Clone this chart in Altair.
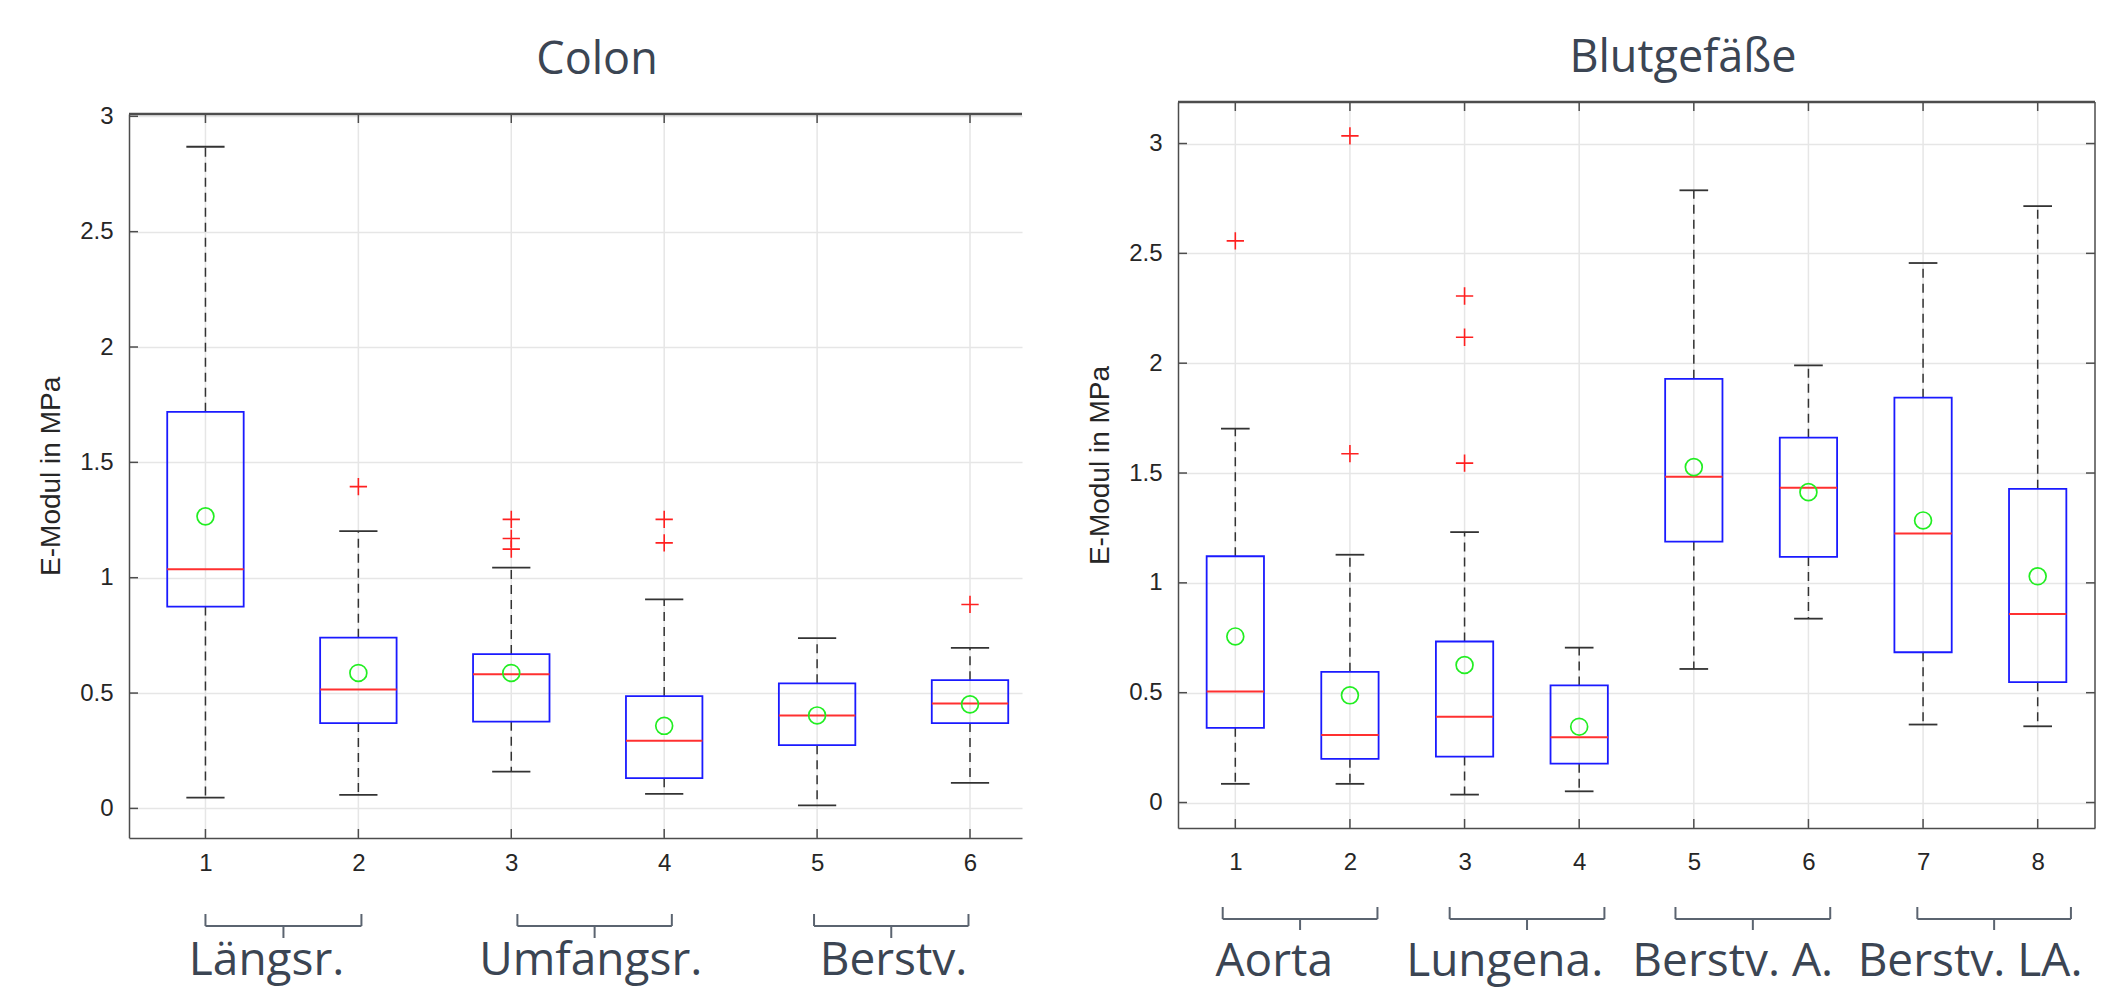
import altair as alt
import pandas as pd

# ---------------- data ----------------
panel_titles = ["Colon", "Blutgefäße"]
y_title = "E-Modul in MPa"
y_ticks = [0, 0.5, 1, 1.5, 2, 2.5, 3]

colon_groups = [1, 2, 3, 4, 5, 6]
colon_q1 = [0.875, 0.370, 0.376, 0.131, 0.274, 0.370]
colon_median = [1.037, 0.515, 0.581, 0.293, 0.403, 0.455]
colon_q3 = [1.719, 0.740, 0.669, 0.487, 0.542, 0.556]
colon_wlo = [0.047, 0.059, 0.159, 0.063, 0.013, 0.111]
colon_whi = [2.868, 1.202, 1.044, 0.906, 0.738, 0.696]
colon_mean = [1.266, 0.587, 0.587, 0.358, 0.403, 0.451]
colon_out_group = [2, 3, 3, 3, 4, 4, 6]
colon_out_value = [1.395, 1.253, 1.170, 1.124, 1.253, 1.151, 0.884]
colon_labels = ["Längsr.", "Umfangsr.", "Berstv."]
colon_label_pos = [1.40, 3.52, 5.50]
colon_bracket_start = [1.00, 3.04, 4.98]
colon_bracket_end = [2.02, 4.05, 5.99]

blut_groups = [1, 2, 3, 4, 5, 6, 7, 8]
blut_q1 = [0.340, 0.199, 0.209, 0.177, 1.188, 1.118, 0.684, 0.548]
blut_median = [0.505, 0.307, 0.391, 0.297, 1.483, 1.433, 1.225, 0.858]
blut_q3 = [1.121, 0.595, 0.733, 0.533, 1.929, 1.661, 1.843, 1.428]
blut_wlo = [0.085, 0.085, 0.036, 0.051, 0.608, 0.837, 0.355, 0.347]
blut_whi = [1.702, 1.128, 1.231, 0.705, 2.787, 1.990, 2.456, 2.715]
blut_mean = [0.756, 0.488, 0.626, 0.345, 1.527, 1.413, 1.284, 1.030]
blut_out_group = [1, 2, 2, 3, 3, 3]
blut_out_value = [2.557, 3.035, 1.588, 2.306, 2.118, 1.545]
blut_labels = ["Aorta", "Lungena.", "Berstv. A.", "Berstv. LA."]
blut_label_pos = [1.34, 3.35, 5.34, 7.41]
blut_bracket_start = [0.89, 2.87, 4.84, 6.95]
blut_bracket_end = [2.24, 4.22, 6.19, 8.29]

# ---------------- styles ----------------
FRAME = "#4d4d4d"
GRID = "#e6e6e6"
TXT = "#262626"
TXT2 = "#3b4553"
BRK = "#5b6470"
TICKFONT = "Liberation Sans"
SLIDEFONT = "Open Sans"


def panel(title, groups, q1, med, q3, wlo, whi, mean, og, ov, labels, lpos, bs, be,
          W, H, xdom, ydom, yrange, ptop, pbot, tx, ty, br, laby, labpad, right_frame):
    xs = alt.Scale(domain=xdom, nice=False, zero=False)
    ys = alt.Scale(domain=ydom, range=yrange, nice=False, zero=False)
    xax = alt.Axis(values=groups, format="d", labelAngle=0, title=None, grid=False,
                   ticks=False, domain=True, domainColor=FRAME, domainWidth=1.5,
                   labelFont=TICKFONT, labelFontSize=24, labelColor=TXT,
                   labelPadding=labpad)
    yax = alt.Axis(values=y_ticks, format="~g", title=y_title, grid=True,
                   gridColor=GRID, gridWidth=1.5, ticks=False, domain=True,
                   domainColor=FRAME, domainWidth=1.5, labelFont=TICKFONT,
                   labelFontSize=24, labelColor=TXT, labelPadding=16,
                   titleFont=TICKFONT, titleFontSize=28, titleFontWeight="normal",
                   titleColor=TXT, titlePadding=14)

    def X(f):
        return alt.X(f, type="quantitative", scale=xs, axis=xax)

    def Y(f):
        return alt.Y(f, type="quantitative", scale=ys, axis=yax)

    box = pd.DataFrame({"g": groups, "q1": q1, "med": med, "q3": q3,
                        "wlo": wlo, "whi": whi, "mean": mean})
    box["xl"] = box["g"] - 0.25
    box["xr"] = box["g"] + 0.25
    box["cl"] = box["g"] - 0.125
    box["cr"] = box["g"] + 0.125
    outl = pd.DataFrame({"g": og, "v": ov})
    yt = pd.DataFrame({"v": y_ticks})
    lab = pd.DataFrame({"lab": labels, "p": lpos})
    brk = pd.DataFrame({"s": bs, "e": be})
    brk["c"] = (brk["s"] + brk["e"]) / 2
    ttl = pd.DataFrame({"t": [title]})

    base = alt.Chart(box)
    layers = [
        # y grid + axes
        alt.Chart(yt).mark_rule(opacity=0).encode(y=Y("v")),
        # x grid
        base.mark_rule(color=GRID, strokeWidth=1.5).encode(
            x=X("g"), y=alt.value(ptop), y2=alt.value(pbot)),
        # whiskers
        base.mark_rule(color="#333333", strokeWidth=1.5, strokeDash=[9, 6]).encode(
            x=X("g"), y=Y("q3"), y2="whi"),
        base.mark_rule(color="#333333", strokeWidth=1.5, strokeDash=[9, 6]).encode(
            x=X("g"), y=Y("q1"), y2="wlo"),
        base.mark_rule(color="#333333", strokeWidth=1.8).encode(
            x=X("cl"), x2="cr", y=Y("whi")),
        base.mark_rule(color="#333333", strokeWidth=1.8).encode(
            x=X("cl"), x2="cr", y=Y("wlo")),
        # boxes
        base.mark_rect(fill="transparent", stroke="#1a1aff", strokeWidth=1.8).encode(
            x=X("xl"), x2="xr", y=Y("q1"), y2="q3"),
        base.mark_rule(color="#ff3030", strokeWidth=2).encode(
            x=X("xl"), x2="xr", y=Y("med")),
        base.mark_point(shape="circle", filled=False, size=285, color="#22ee22",
                        strokeWidth=1.7, opacity=1).encode(x=X("g"), y=Y("mean")),
        alt.Chart(outl).mark_point(shape="M-1,0H1M0,-1V1", filled=False, size=300,
                                   color="#ff2020", strokeWidth=1.6, opacity=1).encode(
            x=X("g"), y=Y("v")),
        # frame: top line and inward ticks
        alt.Chart(ttl).mark_rule(color=FRAME, strokeWidth=2.5).encode(
            x=alt.value(0), x2=alt.value(W), y=alt.value(ptop)),
        alt.Chart(yt).mark_rule(color=FRAME, strokeWidth=1.5).encode(
            y=Y("v"), x=alt.value(0), x2=alt.value(9)),
        base.mark_rule(color=FRAME, strokeWidth=1.5).encode(
            x=X("g"), y=alt.value(pbot), y2=alt.value(pbot - 9)),
        base.mark_rule(color=FRAME, strokeWidth=1.5).encode(
            x=X("g"), y=alt.value(ptop), y2=alt.value(ptop + 9)),
        # brackets
        alt.Chart(brk).mark_rule(color=BRK, strokeWidth=2).encode(
            x=X("s"), x2="e", y=alt.value(br[1])),
        alt.Chart(brk).mark_rule(color=BRK, strokeWidth=2).encode(
            x=X("s"), y=alt.value(br[0]), y2=alt.value(br[1])),
        alt.Chart(brk).mark_rule(color=BRK, strokeWidth=2).encode(
            x=X("e"), y=alt.value(br[0]), y2=alt.value(br[1])),
        alt.Chart(brk).mark_rule(color=BRK, strokeWidth=2).encode(
            x=X("c"), y=alt.value(br[1]), y2=alt.value(br[2])),
        # group labels
        alt.Chart(lab).mark_text(font=SLIDEFONT, fontSize=46, color=TXT2,
                                 baseline="alphabetic", align="center").encode(
            x=X("p"), y=alt.value(laby), text="lab:N"),
        # panel title
        alt.Chart(ttl).mark_text(font=SLIDEFONT, fontSize=45, color=TXT2,
                                 baseline="middle", align="center").encode(
            x=alt.value(tx), y=alt.value(ty), text="t:N"),
    ]
    if right_frame:
        layers.append(alt.Chart(ttl).mark_rule(color=FRAME, strokeWidth=1.5).encode(
            x=alt.value(W), y=alt.value(ptop), y2=alt.value(pbot)))
        layers.append(alt.Chart(yt).mark_rule(color=FRAME, strokeWidth=1.5).encode(
            y=Y("v"), x=alt.value(W - 9), x2=alt.value(W)))
    return alt.layer(*layers).properties(width=W, height=H)


left = panel(panel_titles[0], colon_groups, colon_q1, colon_median, colon_q3,
             colon_wlo, colon_whi, colon_mean, colon_out_group, colon_out_value,
             colon_labels, colon_label_pos, colon_bracket_start, colon_bracket_end,
             W=893, H=736, xdom=[0.5, 6.34], ydom=[-0.127, 3.01], yrange=[735.7, 12],
             ptop=12, pbot=736, tx=468, ty=-42, br=[812, 824, 836], laby=873,
             labpad=13, right_frame=False)

right = panel(panel_titles[1], blut_groups, blut_q1, blut_median, blut_q3,
              blut_wlo, blut_whi, blut_mean, blut_out_group, blut_out_value,
              blut_labels, blut_label_pos, blut_bracket_start, blut_bracket_end,
              W=917, H=726, xdom=[0.5, 8.5], ydom=[-0.116, 3.189], yrange=[726, 0],
              ptop=0, pbot=726, tx=505, ty=-44, br=[805, 817, 828], laby=874,
              labpad=22, right_frame=True)

chart = alt.hconcat(left, right, spacing=62).properties(
    padding={"left": 29, "top": 28, "right": 0, "bottom": 12},
    background="white",
).configure_view(strokeWidth=0)

chart.save("out.html", embed_options={"renderer": "svg", "actions": False})
